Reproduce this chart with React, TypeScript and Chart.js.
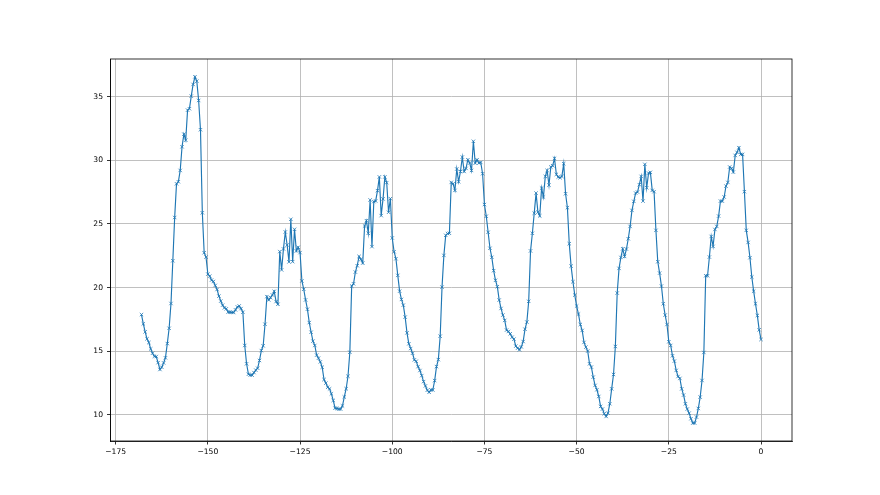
import React, { useEffect, useRef } from "react";
import { Chart, registerables } from "chart.js";

Chart.register(...registerables);

// Temperature readings, half-hourly, from -168 h to 0 h
const day1 = [
  17.88, 17.15, 16.52, 15.97, 15.68, 15.18, 14.84, 14.6, 14.58, 14.1, 13.56, 13.74, 14.08, 14.48, 15.6, 16.8, 18.75,
  22.11, 25.51, 28.16, 28.32, 29.21, 31.07, 32.06, 31.59, 33.95, 34.06, 35.05, 35.97, 36.57,
  36.23, 34.71, 32.41, 25.88, 22.74, 22.4, 21.06, 20.9, 20.59, 20.48, 20.17, 19.85, 19.33, 18.94, 18.62, 18.41, 18.33, 18.07, 18.07, 18.05,
  18.04, 18.25, 18.48, 18.56, 18.35, 18.06,
];
const day2 = [
  15.45, 14.01, 13.19, 13.12, 13.12, 13.32, 13.51, 13.66, 14.27, 15.05, 15.42, 17.12,
  19.29, 19.03, 19.21, 19.42, 19.71, 18.9, 18.69, 22.83, 21.39, 23.04, 24.37, 23.35, 22.02, 25.37, 22.04, 24.58, 22.88, 23.17, 22.75,
  20.52, 19.87, 19.03, 18.3, 17.25, 16.49, 15.79, 15.45, 14.69, 14.45, 14.16, 13.74, 12.77, 12.49, 12.17, 12.04, 11.65, 11.13, 10.52, 10.5, 10.45, 10.45, 10.7, 11.4,
];
const day3 = [
  12.05, 13.03, 14.92, 20.12, 20.3, 21.22, 21.72, 22.45, 22.22, 21.93, 24.84, 25.26, 24.27, 26.89, 23.22, 26.76, 26.81, 27.62, 28.7, 25.66, 26.97, 28.7, 28.25, 25.92,
  26.99, 23.9, 22.82, 22.27, 20.96, 19.72, 19.07, 18.62, 17.68, 16.44, 15.58, 15.21, 14.84, 14.32, 14.21, 13.79, 13.48, 13.08, 12.61, 12.27, 11.93, 11.77, 11.96, 11.95, 12.69, 13.79, 14.34, 16.18, 20.04, 22.53, 24.11,
];
const day4 = [
  24.25, 24.27, 28.27, 28.16, 27.64, 29.32, 28.32, 29.13, 30.26, 29.13, 29.37, 30.05, 29.79, 29.21, 31.5, 29.79, 30.05, 29.79, 29.84, 28.95,
  26.53, 25.61, 24.35, 23.09, 22.38, 21.33, 20.57, 20.07, 19.02, 18.36, 17.84, 17.42, 16.66, 16.55, 16.37, 16.1, 15.95, 15.4, 15.24, 15.11,
  15.34, 15.76, 16.73, 17.29, 18.92, 22.88, 24.27, 25.85, 27.43, 25.93, 25.64, 27.82,
];
const day5 = [
  27.12, 28.74, 29.21, 28.06, 29.48, 29.58, 30.16, 28.9, 28.69, 28.64, 28.74, 29.74, 27.38, 26.28, 23.45, 21.69, 20.46, 19.41, 18.55, 17.92,
  17.1, 16.63, 15.69, 15.32, 15.01, 14.01, 13.75, 12.96, 12.31, 11.97, 11.44, 10.66, 10.45, 10.08, 9.87, 10.13, 10.87, 12.04, 13.17, 15.37,
  19.57, 21.51, 22.37, 23.05, 22.45, 23.03, 23.84, 24.81, 26.07, 26.78, 27.43,
];
const day6 = [
  27.51, 28.09, 28.74, 26.8, 29.69, 27.85, 29.0, 29.06, 27.64, 27.54, 24.5, 22.03, 21.14, 20.12, 18.73, 17.84, 17.1, 15.74, 15.45, 14.64,
  14.22, 13.49, 13.01, 12.86, 12.04, 11.55, 10.87, 10.45, 10.13, 9.69, 9.35, 9.35, 9.82, 10.5,
];
const day7 = [
  11.39, 12.7, 14.9, 20.93, 20.93, 22.4, 24.02, 23.24, 24.57, 24.81, 25.62, 26.8, 26.8, 27.12, 27.98, 28.27, 29.48, 29.37, 29.08, 30.39,
  30.63, 31.0, 30.47, 30.47, 27.54, 24.5, 23.55, 22.35, 20.83, 19.72, 18.73, 17.81, 16.68, 15.92,
];

const X_START = -168;
const X_END = 0;
const X_TICKS = [-175, -150, -125, -100, -75, -50, -25, 0];
const Y_TICKS = [10, 15, 20, 25, 30, 35];

const values = [...day1, ...day2, ...day3, ...day4, ...day5, ...day6, ...day7];

const fmt = (v: number) => String(v).replace("-", "\u2212");

export default function App() {
  const ref = useRef<HTMLCanvasElement | null>(null);
  useEffect(() => {
    if (!ref.current) return;
    const n = values.length;
    const pts = values.map((y, i) => ({ x: X_START + (i * (X_END - X_START)) / (n - 1), y }));
    const frame = {
      id: "frame",
      afterDraw(chart: any) {
        const { ctx, chartArea: a } = chart;
        ctx.save();
        ctx.strokeStyle = "#000";
        ctx.lineWidth = 0.8;
        ctx.strokeRect(a.left, a.top, a.right - a.left, a.bottom - a.top);
        ctx.restore();
      },
    };
    const font = { family: "DejaVu Sans", size: 7.6 };
    const chart = new Chart(ref.current, {
      type: "line",
      data: {
        datasets: [
          {
            data: pts,
            borderColor: "#1f77b4",
            backgroundColor: "#1f77b4",
            borderWidth: 1.15,
            pointStyle: "crossRot",
            pointRadius: 2.4,
            pointBorderWidth: 0.8,
            pointBorderColor: "#1f77b4",
            pointHoverRadius: 2.4,
            tension: 0,
            fill: false,
          },
        ],
      },
      options: {
        animation: false,
        responsive: false,
        events: [],
        layout: { padding: { left: 0, top: 59, right: 88, bottom: 0 } },
        plugins: { legend: { display: false }, tooltip: { enabled: false } },
        scales: {
          x: {
            type: "linear",
            min: -176.4,
            max: 8.4,
            afterBuildTicks: (s: any) => {
              s.ticks = X_TICKS.map((v) => ({ value: v }));
            },
            afterFit: (s: any) => {
              s.height = 54;
            },
            grid: { color: "#b0b0b0", lineWidth: 0.8, tickColor: "#000", tickLength: 3.5, drawTicks: true },
            border: { color: "#000", width: 0.8 },
            ticks: { font, color: "#000", padding: 3, maxRotation: 0, autoSkip: false, callback: (v: any) => fmt(v) },
          },
          y: {
            type: "linear",
            min: 7.94,
            max: 37.97,
            afterBuildTicks: (s: any) => {
              s.ticks = Y_TICKS.map((v) => ({ value: v }));
            },
            afterFit: (s: any) => {
              s.width = 110.5;
            },
            grid: { color: "#b0b0b0", lineWidth: 0.8, tickColor: "#000", tickLength: 3.5, drawTicks: true },
            border: { color: "#000", width: 0.8 },
            ticks: { font, color: "#000", padding: 4, autoSkip: false, callback: (v: any) => fmt(v) },
          },
        },
      },
      plugins: [frame],
    });
    return () => chart.destroy();
  }, []);
  return (
    <div style={{ position: "absolute", left: 0, top: 0, width: 880, height: 495, background: "#fff" }}>
      <canvas ref={ref} width={880} height={495} />
    </div>
  );
}
